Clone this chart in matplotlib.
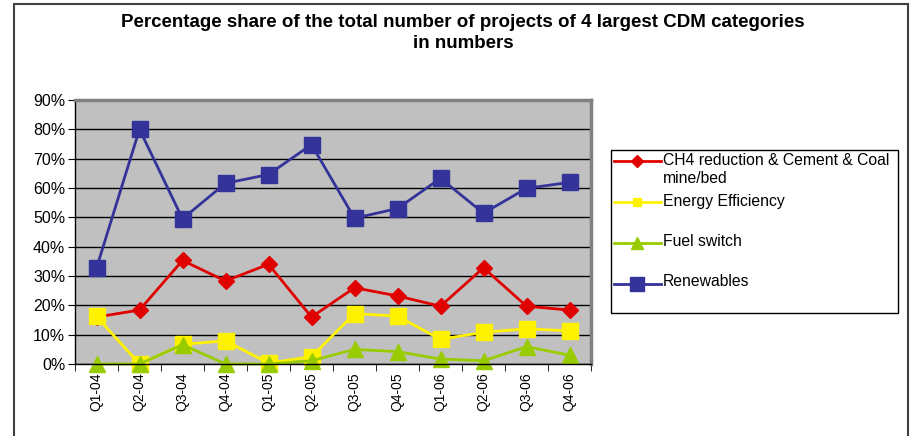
import numpy as np
import matplotlib.pyplot as plt
from matplotlib.patches import Rectangle
from matplotlib.lines import Line2D

plt.rcParams['font.family'] = ['Liberation Sans', 'DejaVu Sans']

quarters = ['Q1-04', 'Q2-04', 'Q3-04', 'Q4-04', 'Q1-05', 'Q2-05',
            'Q3-05', 'Q4-05', 'Q1-06', 'Q2-06', 'Q3-06', 'Q4-06']
ch4 = [16.0, 18.4, 35.3, 28.3, 34.0, 16.0, 26.0, 23.2, 19.7, 32.8, 19.7, 18.4]
energy_eff = [16.2, 0.0, 6.7, 7.9, 0.3, 2.5, 17.2, 16.3, 8.4, 10.8, 12.0, 11.3]
fuel_switch = [0.0, 0.0, 6.6, 0.0, 0.0, 1.1, 5.0, 4.2, 1.7, 1.1, 5.9, 3.0]
renewables = [32.7, 80.0, 49.5, 61.6, 64.6, 74.8, 49.7, 53.0, 63.3, 51.4, 59.9, 61.9]

series_names = ['CH4 reduction & Cement & Coal\nmine/bed', 'Energy Efficiency',
                'Fuel switch', 'Renewables']
colors = ['#E00000', '#FFF200', '#99CC00', '#333399']
markers = ['D', 's', '^', 's']

W, H = 913, 436
fig = plt.figure(figsize=(W / 100, H / 100), dpi=100)
fig.patches.append(Rectangle((14 / W, -0.05), 894 / W, 1.05 - 4 / H,
                             transform=fig.transFigure, fill=False,
                             edgecolor='#404040', linewidth=1.5))

ax = fig.add_axes([75 / W, 72 / H, 516 / W, 264 / H])
ax.set_facecolor('#C0C0C0')
x = np.arange(len(quarters))

sizes = [8, 11, 12, 12]
for vals, name, c, m, ms in zip([ch4, energy_eff, fuel_switch, renewables],
                                series_names, colors, markers, sizes):
    ax.plot(x, vals, color=c, lw=2, marker=m, ms=ms, clip_on=False, label=name)

ax.set_xlim(-0.5, len(quarters) - 0.5)
ax.set_ylim(0, 90)
ax.set_yticks(range(0, 91, 10))
ax.set_yticklabels([f'{v}%' for v in range(0, 91, 10)], fontsize=11.5)
ax.yaxis.grid(True, color='black', lw=1)
ax.set_axisbelow(True)
ax.set_xticks(x)
ax.set_xticklabels(quarters, rotation=90, fontsize=10)
ax.set_xticks(np.arange(-0.5, len(quarters)), minor=True)
ax.tick_params(axis='x', which='major', length=0, pad=6)
ax.tick_params(axis='x', which='minor', length=5, direction='out')
ax.tick_params(axis='y', length=5, direction='out', pad=2)
for s in ['top', 'right']:
    ax.spines[s].set_color('#808080')
    ax.spines[s].set_linewidth(2.5)
for s in ['left', 'bottom']:
    ax.spines[s].set_color('black')
    ax.spines[s].set_linewidth(1)

fig.text(463 / W, 1 - 33 / H,
         'Percentage share of the total number of projects of 4 largest CDM categories\nin numbers',
         ha='center', va='center', fontsize=13.5, fontweight='bold', linespacing=1.3)

# legend, laid out like the Excel one
fig.patches.append(Rectangle((611 / W, 1 - 313 / H), 287 / W, 163 / H,
                             transform=fig.transFigure, facecolor='white',
                             edgecolor='black', linewidth=1))
handle_y = [161, 202, 243, 284]
text_y = [169, 201, 241, 281]
leg_ms = [6, 6, 8, 10]
for hy, ty, name, c, m, ms in zip(handle_y, text_y, series_names, colors, markers, leg_ms):
    fig.lines.append(Line2D([614 / W, 661 / W], [1 - hy / H, 1 - hy / H],
                            transform=fig.transFigure, color=c, lw=2))
    fig.lines.append(Line2D([637 / W], [1 - hy / H], transform=fig.transFigure,
                            color=c, marker=m, ms=ms, lw=0))
    fig.text(663 / W, 1 - ty / H, name, ha='left', va='center', fontsize=11.3,
             linespacing=1.25)

fig.savefig('out.png', dpi=100)
